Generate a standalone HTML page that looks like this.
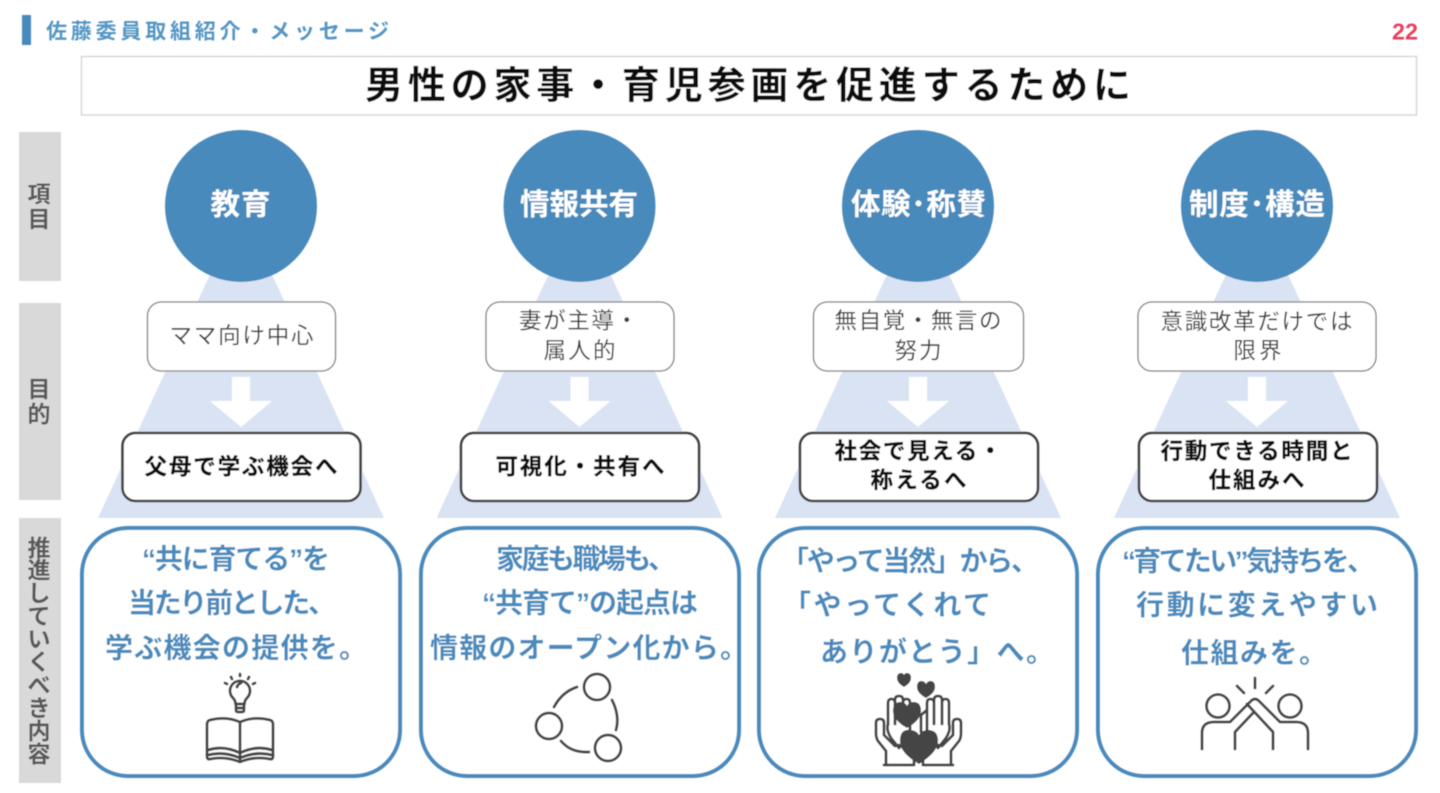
<!DOCTYPE html>
<html lang="ja"><head><meta charset="utf-8"><style>
html,body{margin:0;padding:0;background:#fff;width:1440px;height:793px;overflow:hidden}
svg{display:block;position:absolute;left:0;top:0}
text{font-family:"Liberation Sans","Noto Sans CJK JP",sans-serif}
.b{font-weight:700}
.s{font-size:22.500px;fill:#404040}
.m{font-size:22.500px;font-weight:700;fill:#111;stroke:#111;stroke-width:.3}
.c{font-size:29.500px;font-weight:700;fill:#fff}
.p{font-size:28px;font-weight:700;fill:#4a8abd}
.g{font-size:23px;font-weight:700;fill:#595959;text-anchor:middle}
.ic{fill:none;stroke:#444;stroke-width:2.800;stroke-linecap:round;stroke-linejoin:round}
</style></head><body>
<svg width="1440" height="793" viewBox="0 0 1440 793">
<defs><filter id="bl" x="-5%" y="-5%" width="110%" height="110%"><feGaussianBlur stdDeviation="0.6"/></filter></defs>
<g filter="url(#bl)">
<rect x="22" y="15" width="9" height="30" fill="#4a8abd"/>
<text x="46" y="38.500" font-size="21" class="b" fill="#5596c4" textLength="343" lengthAdjust="spacing">佐藤委員取組紹介・メッセージ</text>
<text x="1392" y="39.500" font-size="23" class="b" fill="#e8405f" textLength="26" lengthAdjust="spacingAndGlyphs">22</text>
<rect x="81.500" y="56.500" width="1335" height="58.500" fill="#fff" stroke="#d4d4d4" stroke-width="1.400"/>
<text x="365" y="98.500" font-size="38" class="b" fill="#111" textLength="766" lengthAdjust="spacing">男性の家事・育児参画を促進するために</text>

<rect x="19" y="132" width="42" height="149" fill="#d9d9d9"/>
<rect x="19" y="303" width="42" height="197" fill="#d9d9d9"/>
<rect x="19" y="518" width="42" height="265" fill="#d9d9d9"/>
<text class="g" x="39" y="202">項</text><text class="g" x="39" y="227">目</text>
<text class="g" x="39" y="397">目</text><text class="g" x="39" y="422">的</text>
<text class="g" x="39" y="556">推</text><text class="g" x="39" y="578">進</text><text class="g" x="39" y="601">し</text><text class="g" x="39" y="624">て</text><text class="g" x="39" y="647">い</text><text class="g" x="39" y="670">く</text><text class="g" x="39" y="693">べ</text><text class="g" x="39" y="716">き</text><text class="g" x="39" y="739">内</text><text class="g" x="39" y="762">容</text>

<g fill="#dae3f3">
<polygon points="241,207 98,518 384,518"/>
<polygon points="579.500,207 436.500,518 722.500,518"/>
<polygon points="918,207 775,518 1061,518"/>
<polygon points="1257,207 1114,518 1400,518"/>
</g>
<g fill="#4a8abd">
<circle cx="241" cy="206" r="76"/><circle cx="579.500" cy="206" r="76"/><circle cx="918" cy="206" r="76"/><circle cx="1257" cy="206" r="76"/>
</g>
<text class="c" x="210.500" y="214.500" textLength="60" lengthAdjust="spacing">教育</text>
<text class="c" x="520" y="214.500" textLength="118" lengthAdjust="spacing">情報共有</text>
<text class="c" x="851" y="214.500" textLength="135" lengthAdjust="spacing">体験･称賛</text>
<text class="c" x="1189" y="214.500" textLength="136" lengthAdjust="spacing">制度･構造</text>

<g fill="#fff" stroke="#808080" stroke-width="1.300">
<rect x="147.500" y="302" width="188" height="69" rx="14"/>
<rect x="486" y="302" width="188" height="69" rx="14"/>
<rect x="813.500" y="302" width="210" height="69" rx="14"/>
<rect x="1138" y="302" width="238" height="69" rx="14"/>
</g>
<text class="s" x="169.500" y="343.500" textLength="144" lengthAdjust="spacing">ママ向け中心</text>
<text class="s" x="519" y="328.500" textLength="119" lengthAdjust="spacing">妻が主導・</text>
<text class="s" x="543.500" y="358.500" textLength="72" lengthAdjust="spacing">属人的</text>
<text class="s" x="834.500" y="328.500" textLength="167" lengthAdjust="spacing">無自覚・無言の</text>
<text class="s" x="894.500" y="358.500" textLength="47" lengthAdjust="spacing">努力</text>
<text class="s" x="1160.500" y="329.500" textLength="192" lengthAdjust="spacing">意識改革だけでは</text>
<text class="s" x="1233.500" y="358.500" textLength="48" lengthAdjust="spacing">限界</text>

<g fill="#fff">
<polygon points="232,377 250,377 250,401 272,401 241,427 210,401 232,401"/>
<polygon points="570.500,377 588.500,377 588.500,401 610.500,401 579.500,427 548.500,401 570.500,401"/>
<polygon points="909,377 927,377 927,401 949,401 918,427 887,401 909,401"/>
<polygon points="1248,377 1266,377 1266,401 1288,401 1257,427 1226,401 1248,401"/>
</g>

<g fill="#fff" stroke="#404040" stroke-width="2.600">
<rect x="122.500" y="433" width="238" height="68" rx="13"/>
<rect x="461" y="433" width="238" height="68" rx="13"/>
<rect x="800" y="433" width="238" height="68" rx="13"/>
<rect x="1139" y="433" width="238" height="68" rx="13"/>
</g>
<text class="m" x="144.500" y="474.500" textLength="193" lengthAdjust="spacing">父母で学ぶ機会へ</text>
<text class="m" x="495.500" y="474.500" textLength="169" lengthAdjust="spacing">可視化・共有へ</text>
<text class="m" x="834.500" y="459" textLength="167" lengthAdjust="spacing">社会で見える・</text>
<text class="m" x="870.500" y="488" textLength="96" lengthAdjust="spacing">称えるへ</text>
<text class="m" x="1160.500" y="459" textLength="192" lengthAdjust="spacing">行動できる時間と</text>
<text class="m" x="1208.500" y="488" textLength="96" lengthAdjust="spacing">仕組みへ</text>

<g fill="#fff" stroke="#4a8abd" stroke-width="4">
<rect x="82" y="528" width="318" height="248" rx="46"/>
<rect x="421" y="528" width="318" height="248" rx="46"/>
<rect x="759" y="528" width="318" height="248" rx="46"/>
<rect x="1098" y="528" width="318" height="248" rx="46"/>
</g>
<text class="p" x="142" y="568.500" textLength="188" lengthAdjust="spacing">“共に育てる”を</text>
<text class="p" x="128" y="612.500" textLength="208" lengthAdjust="spacing">当たり前とした、</text>
<text class="p" x="105" y="657.500" textLength="262" lengthAdjust="spacing">学ぶ機会の提供を。</text>
<text class="p" x="496" y="568.500" textLength="180" lengthAdjust="spacing">家庭も職場も、</text>
<text class="p" x="482" y="612.500" textLength="216" lengthAdjust="spacing">“共育て”の起点は</text>
<text class="p" x="430" y="657.500" textLength="318" lengthAdjust="spacing">情報のオープン化から。</text>
<text class="p" x="781" y="570.500" textLength="258" lengthAdjust="spacing">「やって当然」から、</text>
<text class="p" x="783" y="614.500" textLength="208" lengthAdjust="spacing">「やってくれて</text>
<text class="p" x="820" y="661.500" textLength="234" lengthAdjust="spacing">ありがとう」へ。</text>
<text class="p" x="1122" y="570.500" textLength="253" lengthAdjust="spacing">“育てたい”気持ちを、</text>
<text class="p" x="1136" y="614.500" textLength="242" lengthAdjust="spacing">行動に変えやすい</text>
<text class="p" x="1181" y="662.500" textLength="146" lengthAdjust="spacing">仕組みを。</text>

<g class="ic">
<path d="M233 698a10 10 0 1 1 14 0q-2.500 2.500-2.500 6h-9q0-3.500-2.500-6z"/>
<path d="M236 704v6q0 2 2 2h4q2 0 2-2v-6M236 708h8M237 687q1-3 4-4"/>
<path d="M240 674v2M231 677l1 2M249 677l-1 2M225 683l2 1M255 683l-2 1"/>
<path d="M240 722q-14-6-30-2q-3 1-3 4v32q0 4 3 3q16-3 30 3q14-6 30-3q3 1 3-3v-32q0-3-3-4q-16-4-30 2z"/>
<path d="M240 722v39M208 750q16-5 32 3q16-8 32-3M208 755q16-4 32 3q16-7 32-3"/>
</g>
<g class="ic" stroke-width="3">
<circle cx="597" cy="687" r="13"/><circle cx="549" cy="726" r="13"/><circle cx="608" cy="748" r="13"/>
<path d="M554 707q8-15 23-20M612 700q8 16 4 30M561 741q10 12 28 11"/>
</g>
<g class="ic">
<path d="M886 765V751L878 741Q876 738 876 733V723Q876 719 880 719Q884 719 884 723V735L895 746"/>
<path d="M888 724V703Q888 699 891.500 699Q895 699 895 703V724M895 703V700Q895 696 899 696Q903 696 903 700V724M903 703Q903 699 906.500 699Q910 699 910 703V730"/>
<path d="M888 724Q886 730 891 738L899 748M884 765H914V755L899 745"/>
<path d="M951 765V751L959 741Q961 738 961 733V723Q961 719 957 719Q953 719 953 723V735L942 746"/>
<path d="M949 724V703Q949 699 945.500 699Q942 699 942 703V724M942 703V700Q942 696 938 696Q934 696 934 700V724M934 703Q934 699 930.500 699Q927 699 927 703V730M927 710L921 715V732"/>
<path d="M949 724Q951 730 946 738L938 748M953 765H923V755L938 745"/>
</g>
<g fill="#444">
<path d="M904 687q-7-4-7-9t4-5q2 0 3 2q1-2 3-2q4 0 4 5t-7 9z"/>
<path d="M926 698q-9-5-9-11t4.500-6q3 0 4.500 3q1.500-3 4.500-3q4.500 0 4.500 6t-9 11z"/>
<path d="M907 728q-14-8-14-17t7.500-9q4.500 0 6.500 4q2-4 6.500-4q7.500 0 7.500 9t-14 17z"/>
<path d="M919 764q-19-11-19-23t10-11q6 0 9 5q3-5 9-5q10 0 10 11t-19 23z"/>
</g>
<g class="ic">
<circle cx="1218" cy="706" r="11.500"/><circle cx="1290" cy="706" r="11.500"/>
<path d="M1255 678V688M1237 686L1244 693M1273 686L1266 693"/>
<path d="M1202 749V733Q1202 722 1214 722H1230L1251 701Q1255 697 1259 701L1280 722H1296Q1308 722 1308 733V749"/>
<path d="M1235 749V732L1253 713M1273 749V732L1247 704"/>
</g>
</g>
</svg>
</body></html>
